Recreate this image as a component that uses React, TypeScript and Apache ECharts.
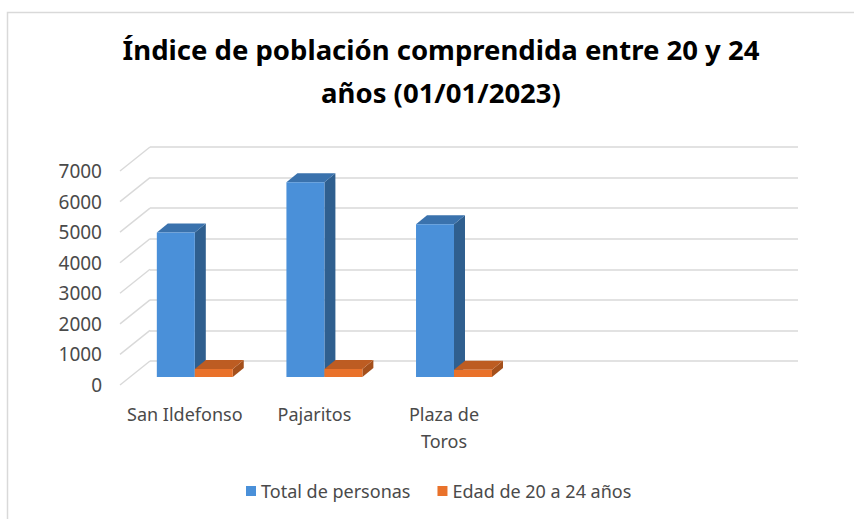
import React, { useEffect, useRef } from "react";
import * as echarts from "echarts";

const titleText = "Índice de población comprendida entre 20 y 24\naños (01/01/2023)";
const categories = ["San Ildefonso", "Pajaritos", "Plaza de\nToros", "", ""];
const seriesNames = ["Total de personas", "Edad de 20 a 24 años"];
const totalPersonas = [4730, 6370, 5000];
const edad20a24 = [265, 265, 240];
const yTicks = [0, 1000, 2000, 3000, 4000, 5000, 6000, 7000];

const Y_MIN = 0;
const Y_MAX = 7000;
const Y_INT = 1000;

const FRONT = { left: 120, top: 171, width: 648, height: 214 };
const DEPTH_X = 30;
const DEPTH_Y = 24;
const BAR_SHIFT_X = 10;
const BAR_SHIFT_Y = 8;
const BAR_FRAC = 0.293;
const BAR_DX = 11;
const BAR_DY = 9;

const BLUE = { front: "#4a90d9", side: "#2f5f8f", top: "#3a72ad" };
const ORANGE = { front: "#e9722b", side: "#a4501c", top: "#bd5c22" };

const TEXT_COLOR = "#4a4a4a";
const GRID_COLOR = "#d9d9d9";
const FONT = "'Noto Sans', 'Open Sans', sans-serif";

function bar3D(offsetFrac: number, c: { front: string; side: string; top: string }) {
  return (params: any, api: any) => {
    const idx = api.value(0);
    const val = api.value(1);
    const top = api.coord([idx, val]);
    const base = api.coord([idx, 0]);
    const band = api.size([1, 0])[0];
    const w = band * BAR_FRAC;
    const x = top[0] + offsetFrac * w;
    const yT = top[1];
    const yB = base[1];
    return {
      type: "group",
      children: [
        {
          type: "polygon",
          shape: { points: [[x + w, yT], [x + w + BAR_DX, yT - BAR_DY], [x + w + BAR_DX, yB - BAR_DY], [x + w, yB]] },
          style: { fill: c.side },
        },
        {
          type: "polygon",
          shape: { points: [[x, yT], [x + BAR_DX, yT - BAR_DY], [x + w + BAR_DX, yT - BAR_DY], [x + w, yT]] },
          style: { fill: c.top },
        },
        {
          type: "rect",
          shape: { x, y: yT, width: w, height: yB - yT },
          style: { fill: c.front },
        },
      ],
    };
  };
}

export default function App() {
  const ref = useRef<HTMLDivElement>(null);
  useEffect(() => {
    if (!ref.current) return;
    const chart = echarts.init(ref.current, null, { renderer: "svg" });
    const yBase = { type: "value", min: Y_MIN, max: Y_MAX, interval: Y_INT };
    const option: any = {
      animation: false,
      backgroundColor: "#ffffff",
      title: {
        text: titleText,
        left: 436,
        top: 23,
        textAlign: "center",
        textStyle: { fontFamily: FONT, fontSize: 27.5, fontWeight: "bold", color: "#000000", lineHeight: 43 },
      },
      legend: {
        left: 241,
        top: 477,
        icon: "rect",
        itemWidth: 10,
        itemHeight: 10,
        itemGap: 27,
        textStyle: { fontFamily: FONT, fontSize: 18, color: TEXT_COLOR },
        data: seriesNames,
      },
      graphic: [
        {
          type: "rect",
          shape: { x: 7.5, y: 12.5, width: 900, height: 600 },
          style: { fill: "none", stroke: GRID_COLOR, lineWidth: 1.5 },
          silent: true,
        },
      ],
      grid: [
        { left: FRONT.left + DEPTH_X, top: FRONT.top - DEPTH_Y, width: FRONT.width, height: FRONT.height },
        { left: FRONT.left, top: FRONT.top, width: FRONT.width, height: FRONT.height },
        { left: FRONT.left + BAR_SHIFT_X, top: FRONT.top - BAR_SHIFT_Y, width: FRONT.width, height: FRONT.height },
      ],
      xAxis: [
        { type: "category", gridIndex: 0, data: categories, show: false },
        {
          type: "category",
          gridIndex: 1,
          data: categories,
          axisLine: { show: false },
          axisTick: { show: false },
          axisLabel: {
            interval: 0,
            margin: 15,
            fontFamily: FONT,
            fontSize: 18,
            lineHeight: 27,
            color: TEXT_COLOR,
          },
        },
        { type: "category", gridIndex: 2, data: categories, show: false },
      ],
      yAxis: [
        {
          ...yBase,
          gridIndex: 0,
          axisLabel: { show: false },
          axisLine: { show: false },
          axisTick: { show: false },
          splitLine: { show: true, lineStyle: { color: GRID_COLOR, width: 1.5 } },
        },
        {
          ...yBase,
          gridIndex: 1,
          axisLine: { show: false },
          axisTick: { show: false },
          splitLine: { show: false },
          axisLabel: {
            margin: 18,
            fontFamily: FONT,
            fontSize: 19,
            color: TEXT_COLOR,
            formatter: (v: number) => String(v),
          },
        },
        { ...yBase, gridIndex: 2, show: false, splitLine: { show: false } },
      ],
      series: [
        {
          type: "custom",
          name: "depthLines",
          xAxisIndex: 1,
          yAxisIndex: 1,
          silent: true,
          data: yTicks.map((v) => [0, v]),
          renderItem: (params: any, api: any) => {
            const y = api.coord([0, api.value(1)])[1];
            const x0 = params.coordSys.x;
            return {
              type: "line",
              shape: { x1: x0, y1: y, x2: x0 + DEPTH_X, y2: y - DEPTH_Y },
              style: { stroke: GRID_COLOR, lineWidth: 1.5 },
            };
          },
        },
        {
          type: "custom",
          name: seriesNames[0],
          xAxisIndex: 2,
          yAxisIndex: 2,
          itemStyle: { color: BLUE.front },
          data: totalPersonas.map((v, i) => [i, v]),
          renderItem: bar3D(-1, BLUE),
        },
        {
          type: "custom",
          name: seriesNames[1],
          xAxisIndex: 2,
          yAxisIndex: 2,
          itemStyle: { color: ORANGE.front },
          data: edad20a24.map((v, i) => [i, v]),
          renderItem: bar3D(0, ORANGE),
        },
      ],
    };
    chart.setOption(option);
    return () => chart.dispose();
  }, []);
  return <div ref={ref} style={{ position: "fixed", left: 0, top: 0, width: 854, height: 519 }} />;
}
